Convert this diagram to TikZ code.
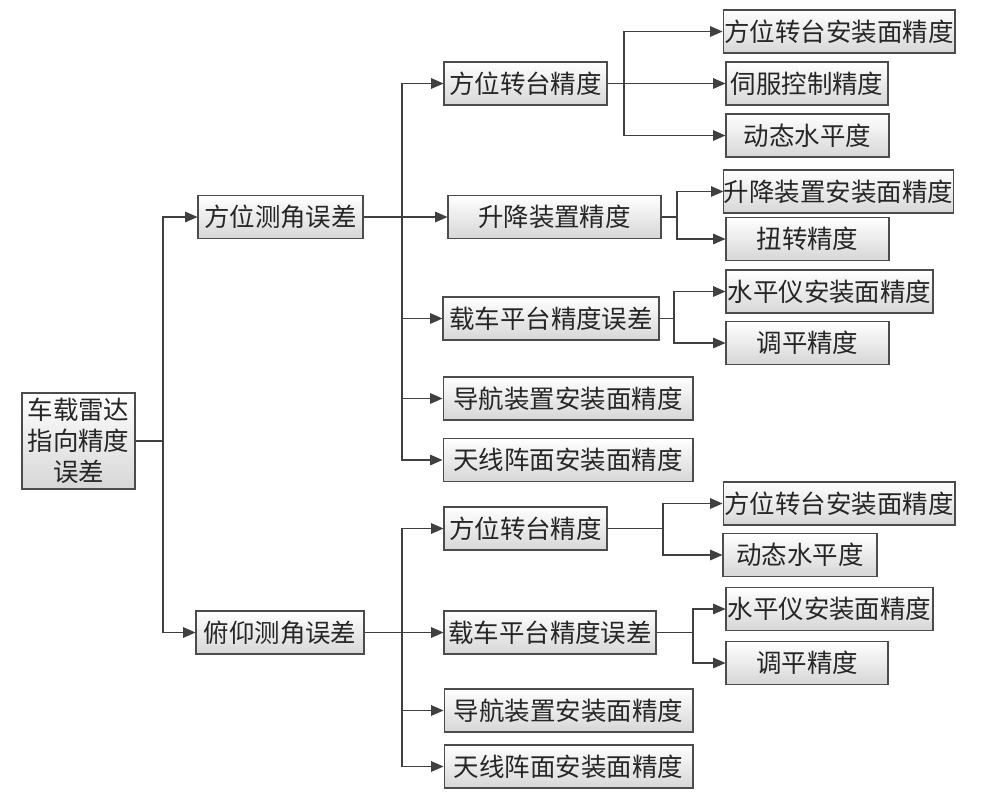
\documentclass[tikz,border=0pt]{standalone}
\usepackage{fontspec}
\newfontfamily\cjk{Noto Sans CJK SC}
\usetikzlibrary{arrows.meta}

\begin{document}
\begin{tikzpicture}[x=0.02cm, y=-0.02cm]

\tikzset{box/.style = {draw=black!70, line width=0.6pt, top color=white, bottom color=black!16,
                       text=black!85, font=\cjk\fontsize{14.5}{17.6}\selectfont,
                       minimum height=0.86cm, inner xsep=0pt, inner ysep=1pt, align=center}
        }
\tikzset{ln/.style  = {draw=black!75, line width=0.6pt}}
\tikzset{arr/.style = {ln, -{Triangle[length=7pt, width=6pt]}}}

\useasboundingbox (0,0) rectangle (995,799);

% root
\node[box, minimum width=2.26cm, minimum height=1.92cm] (root) at (78.5,441) {车载雷达\\指向精度\\误差};

% first level
\node[box, minimum width=3.30cm] (az) at (280.5,217)   {方位测角误差};
\node[box, minimum width=3.36cm] (el) at (280.0,632.5) {俯仰测角误差};

% second level, azimuth
\node[box, minimum width=3.26cm] (a1) at (525.5,83.5)  {方位转台精度};
\node[box, minimum width=4.26cm] (a2) at (554.5,217)   {升降装置精度};
\node[box, minimum width=4.32cm] (a3) at (551.0,318.5) {载车平台精度误差};
\node[box, minimum width=5.00cm] (a4) at (568.0,398.5) {导航装置安装面精度};
\node[box, minimum width=5.00cm] (a5) at (568.0,460)   {天线阵面安装面精度};

% second level, elevation
\node[box, minimum width=3.26cm] (b1) at (525.5,528.5) {方位转台精度};
\node[box, minimum width=4.24cm] (b2) at (550.0,632.5) {载车平台精度误差};
\node[box, minimum width=4.98cm] (b3) at (568.5,710.5) {导航装置安装面精度};
\node[box, minimum width=4.98cm] (b4) at (568.5,766.5) {天线阵面安装面精度};

% third level, azimuth
\node[box, minimum width=4.64cm] (u1) at (839.0,31.5)  {方位转台安装面精度};
\node[box, minimum width=3.24cm] (u2) at (807.0,83.5)  {伺服控制精度};
\node[box, minimum width=3.26cm] (u3) at (807.5,135.5) {动态水平度};
\node[box, minimum width=4.50cm] (u4) at (838.5,191.5) {升降装置安装面精度};
\node[box, minimum width=3.26cm] (u5) at (807.5,239)   {扭转精度};
\node[box, minimum width=4.14cm] (u6) at (829.5,291.5) {水平仪安装面精度};
\node[box, minimum width=3.26cm] (u7) at (807.5,343)   {调平精度};

% third level, elevation
\node[box, minimum width=4.64cm] (c1) at (839.0,503.5) {方位转台安装面精度};
\node[box, minimum width=3.08cm] (c2) at (800.0,555)   {动态水平度};
\node[box, minimum width=4.14cm] (c3) at (829.5,609)   {水平仪安装面精度};
\node[box, minimum width=3.24cm] (c4) at (807.0,663)   {调平精度};

% branch points
\coordinate (j0) at (163,441);
\coordinate (j1) at (402,217);
\coordinate (j2) at (402,632.5);
\coordinate (j3) at (624,83.5);
\coordinate (j4) at (677,217);
\coordinate (j5) at (674,318.5);
\coordinate (j6) at (663,528.5);
\coordinate (j7) at (693,632.5);

% root to first level
\draw[ln]  (root) -- (j0);
\draw[arr] (j0) |- (az);
\draw[arr] (j0) |- (el);

% azimuth branch
\draw[arr] (az) -- (a2);
\draw[arr] (j1) |- (a1);
\draw[arr] (j1) |- (a3);
\draw[arr] (j1) |- (a4);
\draw[arr] (j1) |- (a5);

\draw[arr] (a1) -- (u2);
\draw[arr] (j3) |- (u1);
\draw[arr] (j3) |- (u3);

\draw[ln]  (a2) -- (j4);
\draw[arr] (j4) |- (u4);
\draw[arr] (j4) |- (u5);

\draw[ln]  (a3) -- (j5);
\draw[arr] (j5) |- (u6);
\draw[arr] (j5) |- (u7);

% elevation branch
\draw[arr] (el) -- (b2);
\draw[arr] (j2) |- (b1);
\draw[arr] (j2) |- (b3);
\draw[arr] (j2) |- (b4);

\draw[ln]  (b1) -- (j6);
\draw[arr] (j6) |- (c1);
\draw[arr] (j6) |- (c2);

\draw[ln]  (b2) -- (j7);
\draw[arr] (j7) |- (c3);
\draw[arr] (j7) |- (c4);

\end{tikzpicture}
\end{document}
